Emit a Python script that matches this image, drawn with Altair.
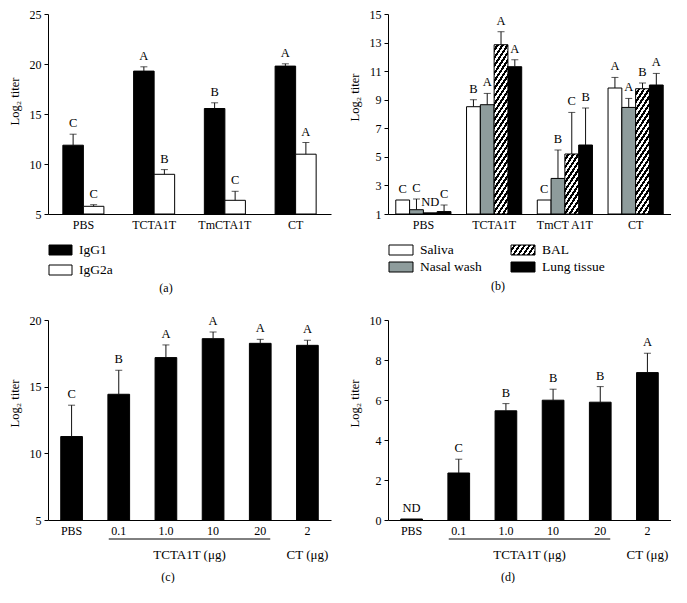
import math
import altair as alt
import pandas as pd

FONT = "Liberation Serif"
INK = "#111111"

# ---------------- panel (a) ----------------
a_groups = ["PBS", "TCTA1T", "TmCTA1T", "CT"]
a_series = ["IgG1", "IgG2a"]
a_colors = ["#000000", "#ffffff"]
a_igg1 = [11.88, 19.29, 15.55, 19.79]
a_igg1_sd = [1.10, 0.43, 0.57, 0.23]
a_igg1_sig = ["C", "A", "B", "A"]
a_igg2a = [5.77, 8.97, 6.37, 10.98]
a_igg2a_sd = [0.16, 0.47, 0.90, 1.17]
a_igg2a_sig = ["C", "B", "C", "A"]
a_ticks = [5, 10, 15, 20, 25]

# ---------------- panel (b) ----------------
b_groups = ["PBS", "TCTA1T", "TmCT A1T", "CT"]
b_series = ["Saliva", "Nasal wash", "BAL", "Lung tissue"]
b_colors = ["#ffffff", "#8e9c9c", "#000000", "#000000"]
b_saliva = [1.98, 8.51, 1.98, 9.82]
b_saliva_sd = [0, 0.49, 0, 0.74]
b_saliva_sig = ["C", "B", "C", "A"]
b_nasal = [1.30, 8.65, 3.49, 8.46]
b_nasal_sd = [0.75, 0.79, 1.99, 0.63]
b_nasal_sig = ["C", "A", "B", "A"]
b_bal = [1.08, 12.85, 5.20, 9.77]
b_bal_sd = [0, 0.91, 2.91, 0.40]
b_bal_sig = ["ND", "A", "C", "B"]
b_lung = [1.17, 11.31, 5.83, 10.03]
b_lung_sd = [0.46, 0.49, 2.59, 0.81]
b_lung_sig = ["C", "A", "B", "A"]
b_ticks = [1, 3, 5, 7, 9, 11, 13, 15]

# ---------------- panels (c) and (d) ----------------
cd_groups = ["PBS", "0.1", "1.0", "10", "20", "2"]
c_vals = [11.26, 14.43, 17.18, 18.60, 18.25, 18.10]
c_sd = [2.35, 1.80, 0.95, 0.50, 0.30, 0.38]
c_sig = ["C", "B", "A", "A", "A", "A"]
c_ticks = [5, 10, 15, 20]
d_vals = [0.05, 2.35, 5.46, 5.99, 5.89, 7.37]
d_sd = [0, 0.69, 0.36, 0.55, 0.78, 0.97]
d_sig = ["ND", "C", "B", "B", "B", "A"]
d_ticks = [0, 2, 4, 6, 8, 10]

W, H = 283, 200


def long_df(groups, rows):
    recs = []
    for name, means, sds, sigs in rows:
        for g, m, s, t in zip(groups, means, sds, sigs):
            recs.append({"group": g, "series": name, "mean": m, "sd": s,
                         "top": m + s, "sig": t})
    return pd.DataFrame(recs)


def xpos(field, groups, pad_in, **kw):
    return alt.X(f"{field}:N",
                 scale=alt.Scale(domain=groups, paddingInner=pad_in, paddingOuter=pad_in / 2),
                 axis=alt.Axis(title=None, labelAngle=0, ticks=False, labelPadding=5,
                               labelFontSize=12),
                 **kw)


def ypos(field, dom, ticks, title_y):
    return alt.Y(f"{field}:Q", scale=alt.Scale(domain=dom, nice=False, zero=False),
                 axis=alt.Axis(values=ticks, title="Log₂ titer", tickSize=4,
                               labelPadding=3, titlePadding=8, labelFontSize=12,
                               titleY=title_y))


def hatch(w, h, period=5.0, angle=57):
    th = math.radians(angle)
    s, c = math.sin(th), math.cos(th)
    gx, gy = s * w, c * h
    t = (gx + gy) / (gx * gx + gy * gy)
    n = (s * w + c * h) / (period * s)
    stops = []
    i = 0
    while i < n:
        a = round(i / n, 5)
        b = round(min((i + 0.5) / n, 1), 5)
        d = round(min((i + 1) / n, 1), 5)
        stops += [alt.GradientStop(offset=a, color="white"),
                  alt.GradientStop(offset=b, color="white"),
                  alt.GradientStop(offset=b, color="black"),
                  alt.GradientStop(offset=d, color="black")]
        i += 1
    return alt.LinearGradient(gradient="linear", stops=stops, x1=0, y1=0,
                              x2=round(t * gx, 5), y2=round(t * gy, 5))


def data_layers(df, bar_df, groups, pad_in, dom, ticks, title_y, series=None, colors=None):
    X = xpos("group", groups, pad_in)
    off = {}
    if series is not None:
        off["xOffset"] = alt.XOffset("series:N", scale=alt.Scale(domain=series, paddingInner=0,
                                                                 paddingOuter=0))
        fill = alt.Fill("series:N", scale=alt.Scale(domain=series, range=colors), legend=None)
    else:
        fill = alt.value("#000000")
    bars = alt.Chart(bar_df).mark_bar(stroke="black", strokeWidth=1).encode(
        x=X, y=ypos("mean", dom, ticks, title_y), y2=alt.datum(dom[0]), fill=fill, **off)
    e = df[df["sd"] > 0]
    err = alt.Chart(e).mark_rule(color=INK, strokeWidth=1).encode(
        x=X, y=ypos("mean", dom, ticks, title_y), y2="top:Q", **off)
    cap = alt.Chart(e).mark_tick(orient="horizontal", size=7, thickness=1, color=INK).encode(
        x=X, y=ypos("top", dom, ticks, title_y), **off)
    lab = alt.Chart(df).mark_text(baseline="bottom", dy=-4, fontSize=12.5).encode(
        x=X, y=ypos("top", dom, ticks, title_y), text="sig:N", **off)
    return [bars, err, cap, lab], X, off


one = pd.DataFrame({"k": [0]})


def swatch(fill, x0, x1, y0, y1):
    return alt.Chart(one).mark_rect(fill=fill, stroke="black", strokeWidth=1).encode(
        x=alt.value(x0), x2=alt.value(x1), y=alt.value(y0), y2=alt.value(y1))


def label(text, x, y, align="left", size=13.5):
    return alt.Chart(one).mark_text(text=text, align=align, baseline="middle",
                                    fontSize=size).encode(x=alt.value(x), y=alt.value(y))


# ---- (a)
df_a = long_df(a_groups, [("IgG1", a_igg1, a_igg1_sd, a_igg1_sig),
                          ("IgG2a", a_igg2a, a_igg2a_sd, a_igg2a_sig)])
layers_a, _, _ = data_layers(df_a, df_a, a_groups, 0.42, [5, 25], a_ticks, 87,
                             a_series, a_colors)
for i, (nm, col) in enumerate(zip(a_series, a_colors)):
    layers_a.append(swatch(col, 1, 24, 231 + 20 * i, 241 + 20 * i))
    layers_a.append(label(nm, 31, 236 + 20 * i))
layers_a.append(label("(a)", 118, 274, align="center", size=12))
pa = alt.layer(*layers_a).properties(width=W, height=H)

# ---- (b)
df_b = long_df(b_groups, [("Saliva", b_saliva, b_saliva_sd, b_saliva_sig),
                          ("Nasal wash", b_nasal, b_nasal_sd, b_nasal_sig),
                          ("BAL", b_bal, b_bal_sd, b_bal_sig),
                          ("Lung tissue", b_lung, b_lung_sd, b_lung_sig)])
b_pad = 0.22
bar_df_b = df_b[(df_b["series"] != "BAL") | (df_b["group"] == "PBS")]
layers_b, Xb, offb = data_layers(df_b, bar_df_b, b_groups, b_pad, [1, 15], b_ticks, 83,
                                 b_series, b_colors)
step_b = W / (len(b_groups) - b_pad + b_pad)
bar_w = step_b * (1 - b_pad) / len(b_series)
px_per = H / (15 - 1)
for g, v in zip(b_groups, b_bal):
    if g == "PBS":
        continue
    row = df_b[(df_b["series"] == "BAL") & (df_b["group"] == g)]
    layers_b.insert(1, alt.Chart(row).mark_bar(
        fill=hatch(bar_w, (v - 1) * px_per), stroke="black", strokeWidth=1).encode(
        x=Xb, y=ypos("mean", [1, 15], b_ticks, 83), y2=alt.datum(1), **offb))
leg_pos = {"Saliva": (1, 231), "Nasal wash": (1, 248), "BAL": (123, 231), "Lung tissue": (123, 248)}
for nm, col in zip(b_series, b_colors):
    x0, y0 = leg_pos[nm]
    f = hatch(24, 10) if nm == "BAL" else col
    layers_b.append(swatch(f, x0, x0 + 24, y0, y0 + 10))
    layers_b.append(label(nm, x0 + 31, y0 + 5))
layers_b.append(label("(b)", 110, 272, align="center", size=12))
pb = alt.layer(*layers_b).properties(width=W, height=H)


# ---- (c), (d)
def dose_panel(vals, sds, sigs, dom, ticks, cap_text):
    df = long_df(cd_groups, [("s", vals, sds, sigs)])
    pad = 0.54
    layers, X, _ = data_layers(df, df, cd_groups, pad, dom, ticks, 83)
    step = W / len(cd_groups)
    under = pd.DataFrame({"start": ["0.1"], "end": ["20"]})
    layers.append(alt.Chart(under).mark_rule(color="black", strokeWidth=1,
                                             xOffset=-10, x2Offset=10).encode(
        x=xpos("start", cd_groups, pad, bandPosition=0.5),
        x2=alt.X2("end:N", bandPosition=0.5), y=alt.value(219)))
    t1 = pd.DataFrame({"g": ["1.0"]})
    layers.append(alt.Chart(t1).mark_text(text="TCTA1T (μg)", dx=step / 2, baseline="middle",
                                          fontSize=13).encode(
        x=xpos("g", cd_groups, pad), y=alt.value(235)))
    t2 = pd.DataFrame({"g": ["2"]})
    layers.append(alt.Chart(t2).mark_text(text="CT (μg)", baseline="middle",
                                          fontSize=13).encode(
        x=xpos("g", cd_groups, pad), y=alt.value(235)))
    layers.append(label(cap_text, 120, 257, align="center", size=12))
    return alt.layer(*layers).properties(width=W, height=H)


pc = dose_panel(c_vals, c_sd, c_sig, [5, 20], c_ticks, "(c)")
pd_ = dose_panel(d_vals, d_sd, d_sig, [0, 10], d_ticks, "(d)")

chart = alt.concat(pa, pb, pc, pd_, columns=2, bounds="flush",
                   spacing={"row": 106, "column": 57}).resolve_scale(
    x="independent", y="independent", xOffset="independent", fill="independent"
).properties(padding=0).configure_view(stroke=None).configure_axis(
    labelFont=FONT, titleFont=FONT, titleFontWeight="normal", titleFontSize=12.5,
    labelColor="black", titleColor="black", domainColor="black", tickColor="black",
    grid=False
).configure_text(font=FONT, color="black")

chart.save("out.html", embed_options={"renderer": "svg", "actions": False})
